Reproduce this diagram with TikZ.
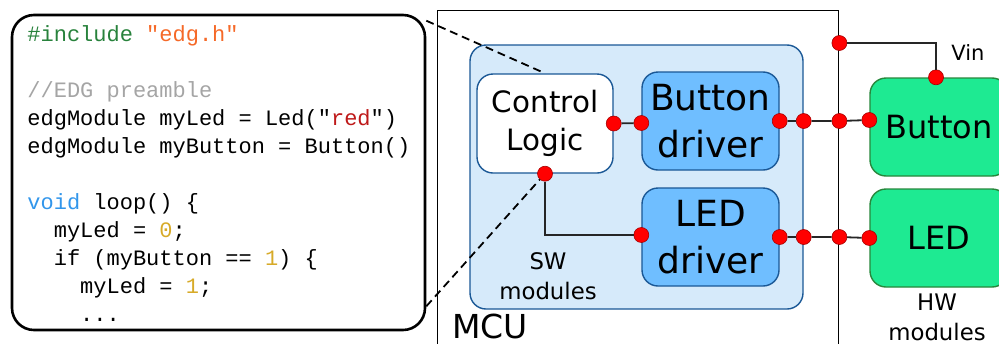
\documentclass[tikz,border=0pt]{standalone}
\usepackage{fontspec}
\setmainfont{DejaVu Sans}
\newfontfamily\codefont{Liberation Mono}
\usetikzlibrary{positioning}

\definecolor{swfill}{RGB}{214,234,250}
\definecolor{swline}{RGB}{26,88,150}
\definecolor{drvfill}{RGB}{111,190,255}
\definecolor{hwfill}{RGB}{30,234,146}
\definecolor{hwline}{RGB}{40,135,60}
\definecolor{codegreen}{RGB}{40,130,60}
\definecolor{codeorange}{RGB}{245,105,40}
\definecolor{codegray}{RGB}{165,165,165}
\definecolor{codered}{RGB}{190,25,25}
\definecolor{codeblue}{RGB}{50,150,235}
\definecolor{codegold}{RGB}{215,170,40}

\begin{document}
\begin{tikzpicture}[
  x=0.5pt, y=-0.5pt,
  codebox/.style={draw, line width=1.3pt, rounded corners=11pt,
    minimum width=206.5pt, minimum height=157.5pt},
  mcubox/.style={draw, line width=0.7pt, minimum width=200.5pt,
    minimum height=190pt},
  swbox/.style={draw=swline, fill=swfill, line width=0.7pt, rounded corners=8pt,
    minimum width=166.5pt, minimum height=132pt},
  logicbox/.style={draw=swline, fill=white, line width=0.7pt, rounded corners=8pt,
    minimum width=68pt, minimum height=49.5pt, align=center,
    font=\fontsize{14.7}{19}\selectfont},
  drvbox/.style={draw=swline, fill=drvfill, line width=0.7pt, rounded corners=8pt,
    minimum width=68.5pt, minimum height=49pt, align=center, inner sep=0pt,
    font=\fontsize{18}{23.5}\selectfont},
  hwbox/.style={draw=hwline, fill=hwfill, line width=0.7pt, rounded corners=8pt,
    minimum width=69pt, minimum height=49pt, font=\fontsize{16}{19}\selectfont},
  port/.style={circle, fill=red, draw=red!65!black, line width=0.3pt,
    inner sep=0pt, minimum size=7.5pt},
  wire/.style={line width=0.9pt, black!85},
  zoomline/.style={line width=0.9pt, dash pattern=on 4pt off 2.5pt},
  lbl/.style={align=center, inner sep=0pt, font=\fontsize{11.4}{15}\selectfont}
]
\clip (0,0) rectangle (999,343);

% code listing
\node[codebox] (codebox) at (218.5,172.5) {};
\node[anchor=base west, align=left, inner sep=0pt,
  font=\codefont\fontsize{11}{14}\selectfont] (code) at (27,321)
  {\textcolor{codegreen}{\#include} \textcolor{codeorange}{"edg.h"}\\[14pt]
   \textcolor{codegray}{//EDG preamble}\\
   edgModule myLed = Led("\textcolor{codered}{red}")\\
   edgModule myButton = Button()\\[14pt]
   \textcolor{codeblue}{void} loop() \{\\
   \phantom{xx}myLed = \textcolor{codegold}{0};\\
   \phantom{xx}if (myButton == \textcolor{codegold}{1}) \{\\
   \phantom{xxxx}myLed = \textcolor{codegold}{1};\\
   \phantom{xxxx}...};

% MCU and software modules
\node[mcubox, anchor=north west] (mcu) at (437,10) {};
\node[anchor=base west, inner sep=0pt, font=\fontsize{16.5}{19}\selectfont]
  (mculbl) at (452,338) {MCU};
\node[swbox] (sw) at (636.5,177) {};
\node[logicbox] (logic) at (545,123.5) {Control\\Logic};
\node[drvbox] (bdrv) at (710.5,121) {Button\\driver};
\node[drvbox] (ldrv) at (710.5,237) {LED\\driver};
\node[lbl] (swlbl) at (548,276) {SW\\modules};

% hardware modules
\node[hwbox] (hwbtn) at (939,127) {Button};
\node[hwbox] (hwled) at (939,238) {LED};
\node[lbl, anchor=north] (hwlbl) at (937,293) {HW\\modules};

% ports
\node[port] (lout) at (logic.east) {};
\node[port] (lbot) at (logic.south) {};
\node[port] (bin) at ([yshift=-1pt]bdrv.west) {};
\node[port] (lin) at ([yshift=1pt]ldrv.west) {};
\node[port] (bout) at (bdrv.east) {};
\node[port] (bsw) at (sw.east |- bdrv.east) {};
\node[port] (bmcu) at (mcu.east |- bdrv.east) {};
\node[port] (bhw) at ([yshift=3.5pt]hwbtn.west) {};
\node[port] (lout2) at (ldrv.east) {};
\node[port] (lsw) at (sw.east |- ldrv.east) {};
\node[port] (lmcu) at (mcu.east |- ldrv.east) {};
\node[port] (lhw) at (hwled.west) {};
\node[port] (vmcu) at ([yshift=-16.5pt]mcu.north east) {};
\node[port] (vhw) at ([xshift=-1.5pt]hwbtn.north) {};
\node[anchor=base west, inner sep=0pt, font=\fontsize{10.5}{12}\selectfont]
  (vin) at (951,60) {Vin};

% wires
\draw[wire] (lout) -- (bin);
\draw[wire] (lbot) |- (lin);
\draw[wire] (bout) -- (bsw) -- (bmcu) -- (bhw);
\draw[wire] (lout2) -- (lsw) -- (lmcu) -- (lhw);
\draw[wire] (vmcu) -| (vhw);

% zoom lines
\draw[zoomline] ([yshift=-3.5pt]codebox.north east) -- (logic.north);
\draw[zoomline] ([yshift=12.5pt]codebox.south east) -- (lbot);
\end{tikzpicture}
\end{document}
